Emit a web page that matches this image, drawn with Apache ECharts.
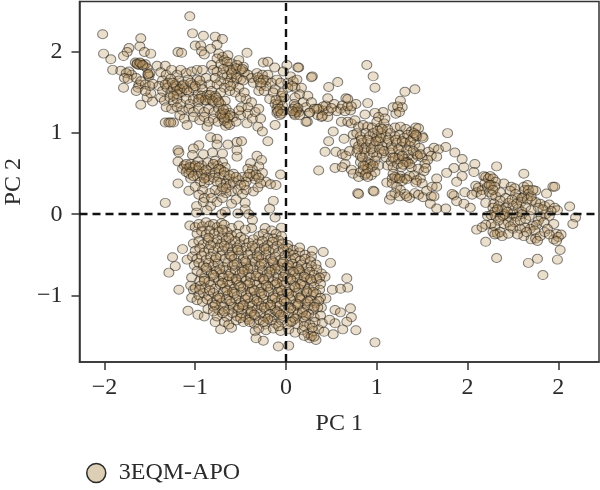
<!DOCTYPE html>
<html>
<head>
<meta charset="utf-8">
<style>html,body{margin:0;padding:0;background:#fff}#chart{width:600px;height:490px}</style>
<script src="https://cdn.jsdelivr.net/npm/echarts@6/dist/echarts.min.js"></script>
</head>
<body>
<div id="chart"></div>
<script>
// Principal component scores, grouped by conformational basin: [PC 1, PC 2]
const seriesName = '3EQM-APO';
const xTickValues = [-2, -1, 0, 1, 2, 3];
const xTickLabels = ['−2', '−1', '0', '1', '2', '2'];
const yTickValues = [-1, 0, 1, 2];
const yTickLabels = ['−1', '0', '1', '2'];

const upperLeftFringe = [
[-1.06,2.44],[-2.02,2.22],[-1.6,2.17],[-1.03,2.23],[-0.91,2.2],[-0.78,2.19],[-0.7,2.16],[-1.61,2.07],[-1.73,2.05],[-1.75,2],[-1.79,1.95],[-2.01,1.98],[-1.93,1.91],[-1.56,2],[-1.49,1.98],[-1.19,2],[-1.15,1.99],[-1,2.08],[-0.94,2.08],[-0.76,2.09],[-0.83,2.04],[-0.93,2.01],[-0.9,1.97],[-0.43,1.99],[-0.25,1.87],[-0.2,1.88],[-0.125,1.81],[0.01,1.84],[0.14,1.81],[0.29,1.7],[-0.03,1.76],[-1.91,1.78],[-1.82,1.77],[-1.79,1.56],[-1.6,1.35],[-1.53,1.44],[-1.47,1.39],[-1.49,1.49],[-1.33,1.13],[-1.29,1.13],[-1.24,1.13],[-1.27,1.13],[-1.09,1.1],[-0.87,1.08],[-0.665,1.09],[-0.43,1.12],[-0.31,1.08],[-0.26,1.02],[-0.12,1.1],[0.235,1.14],[-0.2,0.9]];
const upperLeftBody = [
[-1.66,1.87],[-1.64,1.86],[-1.62,1.84],[-1.6,1.86],[-1.57,1.83],[-1.55,1.85],[-1.53,1.8],[-1.52,1.72],[-1.51,1.7],[-1.5,1.74],[-1.7,1.72],[-1.73,1.76],[-1.76,1.74],[-1.78,1.68],[-1.74,1.67],[-1.65,1.68],[-1.62,1.6],[-1.63,1.56],[-1.6,1.64],[-1.55,1.6],[-1.5,1.58],[-1.47,1.61],[-1.55,1.52],[-1.65,1.52],[-1.42,1.83],[-1.33,1.83],[-1.38,1.75],[-1.32,1.72],[-1.26,1.78],[-1.2,1.72],[-1.16,1.78],[-1.1,1.74],[-1.04,1.76],[-0.98,1.78],[-0.92,1.78],[-1.36,1.65],[-1.3,1.62],[-1.27,1.67],[-1.22,1.6],[-1.18,1.65],[-1.14,1.58],[-1.08,1.66],[-1.03,1.6],[-0.98,1.66],[-0.93,1.6],[-0.88,1.68],[-0.84,1.6],[-1.4,1.58],[-1.36,1.52],[-1.31,1.56],[-1.27,1.5],[-1.33,1.6],[-1.24,1.55],[-1.2,1.52],[-1.15,1.5],[-1.12,1.55],[-1.07,1.5],[-1.02,1.55],[-0.97,1.48],[-0.92,1.54],[-0.87,1.47],[-0.82,1.52],[-0.78,1.46],[-1.38,1.44],[-1.34,1.4],[-1.28,1.44],[-1.24,1.38],[-1.2,1.42],[-1.16,1.36],[-1.1,1.42],[-1.06,1.36],[-1.02,1.42],[-0.97,1.38],[-0.93,1.43],[-0.88,1.4],[-0.84,1.42],[-0.8,1.38],[-0.75,1.41],[-0.72,1.36],[-0.67,1.4],[-1.32,1.32],[-1.26,1.3],[-1.2,1.32],[-1.14,1.28],[-1.07,1.3],[-1.02,1.26],[-0.96,1.3],[-0.9,1.26],[-0.85,1.3],[-0.79,1.26],[-0.74,1.3],[-0.7,1.25],[-0.66,1.3],[-0.62,1.25],[-1.17,1.22],[-1.12,1.18],[-1.02,1.2],[-0.95,1.16],[-0.9,1.2],[-0.85,1.14],[-0.8,1.18],[-0.75,1.14],[-0.7,1.2],[-0.68,1.15],[-0.64,1.12],[-0.62,1.1],[-0.58,1.2],[-0.55,1.14],[-0.5,1.22],[-0.49,1.32],[-0.52,1.28],[-0.42,1.24],[-0.37,1.18],[-0.34,1.26],[-0.28,1.18],[-0.3,1.3],
[-0.74,1.98],[-0.7,1.94],[-0.76,1.92],[-0.68,1.9],[-0.64,1.96],[-0.6,1.86],[-0.72,1.85],[-0.64,1.82],[-0.58,1.78],[-0.52,1.9],[-0.47,1.82],[-0.46,1.75],[-0.5,1.78],[-0.54,1.84],[-0.82,1.84],[-0.8,1.78],[-0.76,1.76],[-0.7,1.72],[-0.65,1.7],[-0.6,1.68],[-0.55,1.72],[-0.5,1.66],[-0.58,1.62],[-0.64,1.62],[-0.72,1.64],[-0.76,1.6],[-0.68,1.56],[-0.62,1.52],[-0.56,1.5],[-0.52,1.56],[-0.72,1.5],[-0.78,1.68],[-0.42,1.72],[-0.38,1.68],[-0.36,1.62],[-0.32,1.74],[-0.3,1.66],[-0.26,1.72],[-0.22,1.65],[-0.2,1.72],[-0.28,1.58],[-0.3,1.52],[-0.24,1.52],[-0.22,1.58],[-0.16,1.62],[-0.1,1.66],[-0.06,1.62],[-0.12,1.54],[-0.44,1.42],[-0.38,1.38],[-0.42,1.32],[-0.5,1.44],[-0.46,1.5],[-0.18,1.42],[-0.14,1.5],
[-0.12,1.36],[-0.1,1.3],[-0.1,1.25],[-0.06,1.4],[-0.05,1.46],[-0.04,1.34],[-0.07,1.22],[-0.03,1.27],[-0.02,1.44],[0.02,1.62],[0.05,1.7],[0.08,1.64],[0.12,1.66],[0.1,1.56],[0.17,1.56],[0.15,1.48],[0.1,1.44],[0.09,1.36],[0.12,1.28],[0.1,1.22],[0.08,1.3],[0.14,1.26],[0.19,1.38],[0.24,1.46],[0.22,1.32],[0.28,1.38],[0.26,1.25],[0.31,1.3],[0.36,1.3],[0.41,1.28],[0.44,1.34],[0.39,1.2],[0.35,1.22],[0.46,1.2]];
// Tight knots inside the upper basin
const upperLeftKnots = [
[-1.64,1.85],[-1.61,1.87],[-1.58,1.84],[-1.52,1.73],[-1.21,1.58],[-1.17,1.54],[-1.13,1.6],[-1.09,1.53],[-1.25,1.62],[-1.2,1.48],[-1.24,1.46],[-0.93,1.46],[-0.89,1.41],[-0.84,1.47],[-0.81,1.4],[-0.96,1.42],[-0.77,1.44],[-0.74,1.38],[-0.67,1.24],[-0.64,1.19],[-0.62,1.22],[-0.68,1.18],[-0.72,1.23],[-0.69,1.29],[-0.62,1.78],[-0.55,1.8],[-0.48,1.79],[-0.6,1.74],[-0.65,1.88],[-0.69,1.79],[-0.54,1.68],[-0.61,1.58],[-0.47,1.65],[-0.31,1.69],[-0.25,1.66],[-0.28,1.62],[-0.09,1.35],[-0.07,1.3],[-0.11,1.41],[-0.09,1.27],[-0.05,1.24],[0.1,1.33],[0.11,1.26],[0.09,1.24],[0.13,1.31],[0.07,1.27],[0.15,1.22],[-0.04,1.5],[0.02,1.56],[0.07,1.58],[-1.05,1.62],[-1,1.58],[-0.95,1.65]];
const midCenterStrip = [
[0.13,1.81],[0.28,1.69],[0.47,1.57],[0.57,1.63],[0.46,1.43],[0.9,1.37],[0.77,1.36],[0.66,1.43],[0.68,1.42],[0.53,1.36],[0.41,1.33],[0.47,1.27],[0.4,1.21],[0.6,1.3],[0.71,1.28],[0.22,1.14],[0.26,1.255],[0.56,1.27],[0.62,1.34],[0.65,1.27],[0.68,1.33],[0.72,1.33],[0.5,1.31],[0.89,1.84],[0.96,1.7],[0.98,1.56],[1.31,1.51],[1.42,1.54],[0.34,1.3]];
const rightCluster = [
[1.26,1.4],[1.28,1.32],[1.18,1.32],[1.21,1.24],[1.07,1.26],[0.98,1.25],[0.87,1.23],[0.61,1.14],[0.52,1.02],[0.64,0.93],[0.47,0.9],[0.43,0.77],[0.55,0.77],[0.36,0.54],[0.54,0.57],[1.78,1],[0.79,0.26],[0.8,0.25],[0.96,0.29],[0.97,0.28],[1.11,0.39],[1.14,0.18],[1.23,1.33],[1.25,1.26],[1.02,1.2],[1.09,1.18],[0.68,1.14],[0.72,1.12],[0.76,1.16],[0.62,0.74],[0.66,0.72],[0.7,0.78],[0.65,0.62],[0.62,0.58],[0.72,0.55],[0.74,0.5],[0.8,0.46],[0.82,0.52],[0.87,0.48],[0.94,0.48],
[0.8,1.08],[0.85,1.1],[0.9,1.08],[0.95,1.07],[1,1.14],[1.04,1.07],[1.08,1.12],[1.12,1.05],[1.2,1.07],[1.26,1.08],[1.32,1.05],[1.38,1.02],[1.43,1.07],[1.46,1.06],[1.5,0.96],[0.74,0.98],[0.78,1],[0.82,0.96],[0.88,1],[0.92,0.96],[0.96,1],[1,0.95],[1.05,1],[1.1,0.96],[1.15,1],[1.2,0.96],[1.25,0.98],[1.3,0.94],[1.34,0.98],[1.4,0.94],[1.44,0.96],[1.51,0.94],
[0.76,0.88],[0.8,0.84],[0.84,0.88],[0.88,0.83],[0.93,0.88],[0.97,0.84],[1.02,0.9],[1.06,0.84],[1.11,0.88],[1.16,0.84],[1.22,0.88],[1.27,0.83],[1.31,0.88],[1.36,0.84],[1.42,0.86],[1.47,0.82],[1.57,0.77],[1.63,0.82],[1.68,0.8],[1.6,0.72],[1.66,0.71],
[0.78,0.76],[0.82,0.72],[0.87,0.76],[0.92,0.72],[0.96,0.76],[1,0.72],[1.06,0.75],[1.1,0.7],[1.15,0.76],[1.2,0.7],[1.25,0.74],[1.3,0.68],[1.35,0.73],[1.39,0.68],[1.44,0.74],[1.5,0.7],[1.56,0.67],[1.53,0.62],
[0.82,0.64],[0.87,0.6],[0.9,0.64],[0.94,0.58],[0.98,0.66],[1.02,0.6],[1.12,0.6],[1.16,0.65],[1.18,0.58],[1.23,0.62],[1.27,0.58],[1.34,0.64],[1.38,0.58],[1.46,0.56],[1.52,0.53],[1.54,0.57],
[0.85,0.55],[0.88,0.5],[0.9,0.46],[0.98,0.52],[1.18,0.5],[1.22,0.44],[1.17,0.44],[1.26,0.47],[1.31,0.44],[1.28,0.41],[1.36,0.47],[1.41,0.48],[1.44,0.42],[1.48,0.44],[1.43,0.39],[1.5,0.38],[1.17,0.38],[1.22,0.34],[1.26,0.3],[1.2,0.26],[1.16,0.23],[1.25,0.22],[1.31,0.25],[1.36,0.2],[1.33,0.22],[1.42,0.26],[1.46,0.24],[1.51,0.21],[1.55,0.29],[1.6,0.22],[1.59,0.13],[1.61,0.34],[1.63,0.22],[1.66,0.34],[1.66,0.07],[1.66,0.44],[1.76,0.07],[2.03,0.08],[1.86,0.76],[1.94,0.68],[2.08,0.62],[1.76,0.83],[1.85,0.57],[1.96,0.58],[2.07,0.52],[1.77,0.51],[1.94,0.47],[1.88,0.4],[1.85,0.23],[1.88,0.16],[1.96,0.13],[1.83,0.25],[1.97,0.27]];
// Core of the right basin, where marks pile up
const rightKnots = [
[0.83,0.92],[0.86,0.8],[0.9,0.92],[0.94,0.8],[0.99,0.9],[1.03,0.8],[1.04,0.94],[1.08,0.78],[0.84,0.7],[0.79,0.8],[1.13,0.92],[1.17,0.8],[1.21,0.92],[1.24,0.8],[1.28,0.9],[1.33,0.79],[1.37,0.9],[1.4,0.78],[1.24,0.68],[1.28,0.72],[1.32,0.64],[1.36,0.62],[1.29,0.61],[1.18,0.7],[0.93,0.62],[0.96,0.6],[0.9,0.56],[0.85,0.6],[1.2,0.46],[1.25,0.44],[1.33,0.43],[1.01,1.03],[1.06,1.05],[1.41,1],[1.43,0.98],[1.45,0.72],[1.48,0.74]];
const farRightCluster = [
[2.32,0.59],[2.62,0.5],[2.94,0.34],[2.96,0.34],[3.125,0.095],[3.19,-0.04],[3.16,-0.12],[3.02,-0.44],[2.99,-0.56],[2.77,-0.55],[2.67,-0.6],[2.32,-0.54],[2.2,-0.34],[2.83,-0.75],[2.1,-0.19],[2.87,0.255],[2.75,0.29],
[2.18,0.47],[2.2,0.46],[2.23,0.44],[2.25,0.47],[2.28,0.44],[2.31,0.4],[2.09,0.35],[2.12,0.33],[2.1,0.27],[2.05,0.24],[2.16,0.3],[2.15,0.24],[2.19,0.38],[2.22,0.34],[2.26,0.36],[2.3,0.34],[2.24,0.27],[2.27,0.24],[2.31,0.22],[2.36,0.27],[2.4,0.38],[2.48,0.34],[2.52,0.32],[2.47,0.29],[2.53,0.25],[2.62,0.34],[2.63,0.3],[2.67,0.25],[2.62,0.22],[2.71,0.17],[2.55,0.2],[2.59,0.15],[2.42,0.2],[2.45,0.14],[2.36,0.17],[2.2,0.14],[2.29,0.13],[2.34,0.1],[2.28,0.08],[2.38,0.05],[2.42,0.08],[2.5,0.1],[2.56,0.07],[2.6,0.03],[2.64,0.09],[2.3,0.03],[2.22,-0.02],[2.26,-0.01],[2.31,-0.02],[2.36,-0.04],[2.41,0],[2.46,-0.03],[2.5,0.01],[2.54,-0.03],[2.6,0],[2.85,0.1],[2.9,0.12],[2.96,0.08],[2.99,0.05],[2.92,0.04],[2.8,0.13],[2.75,0.15],[2.86,0],[2.81,-0.03],[2.78,-0.08],[2.72,-0.14],[2.76,-0.13],[2.69,-0.18],[2.74,-0.2],[2.63,-0.16],[2.58,-0.18],[2.5,-0.18],[2.45,-0.1],[2.4,-0.12],[2.34,-0.08],[2.3,-0.15],[2.26,-0.12],[2.2,-0.13],[2.16,-0.16],[2.28,-0.22],[2.33,-0.24],[2.36,-0.22],[2.3,-0.25],[2.38,-0.27],[2.45,-0.24],[2.62,-0.27],[2.7,-0.31],[2.75,-0.3],[2.8,-0.27],[2.77,-0.33],[2.85,-0.22],[2.95,-0.12],[2.98,-0.24],[2.95,-0.31],[3.03,-0.25],[3,-0.28],[2.98,-0.33],[2.24,0.36],[2.28,0.3],[2.33,0.06],[2.39,-0.02],[2.44,0.03],[2.49,0.18],[2.54,0.13],[2.6,0.2],[2.66,0.18],
[2.66,0.36],[2.67,0.3],[2.7,0.22],[2.72,0.3],[2.78,0.08],[2.83,0.06],[2.9,-0.02],[2.84,-0.1],[2.88,-0.18],[2.9,-0.25],[2.52,-0.1],[2.58,-0.08],[2.64,-0.06],[2.68,-0.02],[2.7,0.05],[2.65,-0.22],[2.55,-0.25],[2.47,-0.15]];
const midLeftCluster = [
[-0.83,0.95],[-0.76,0.93],[-0.76,0.86],[-0.96,0.85],[-1.02,0.81],[-1.19,0.79],[-1.18,0.76],[-0.64,0.86],[-0.54,0.89],[-0.49,0.9],[-0.54,0.79],[-0.54,0.71],[-0.81,0.76],[-0.7,0.75],[-0.91,0.74],[-1.03,0.73],[-1.19,0.65],[-0.32,0.72],[-0.27,0.67],[-0.39,0.63],[-0.3,0.59],[-0.26,0.51],[-0.06,0.49],[-0.22,0.4],[-0.17,0.37],[-0.11,0.36],[-1.19,0.38],[-1.07,0.29],[-1.12,0.6],[-1.09,0.56],[-1.05,0.62],[-1.02,0.58],[-1.14,0.56],[-1.1,0.52],[-1.04,0.52],[-0.97,0.65],[-0.93,0.6],[-0.97,0.54],[-0.9,0.53],[-0.86,0.64],[-0.82,0.58],[-0.78,0.66],[-0.75,0.6],[-0.7,0.64],[-0.67,0.58],[-0.72,0.55],[-0.78,0.52],[-0.84,0.5],[-0.88,0.46],[-0.98,0.47],[-1.05,0.44],[-0.94,0.4],[-0.9,0.38],[-0.85,0.42],[-0.8,0.45],[-0.74,0.46],[-0.68,0.48],[-0.63,0.44],[-0.58,0.5],[-0.72,0.39],[-0.66,0.38],[-0.62,0.36],[-0.58,0.4],[-0.52,0.42],[-0.48,0.46],[-0.44,0.4],[-0.37,0.55],[-0.36,0.47],[-0.34,0.43],[-0.42,0.56],[-0.6,0.28],[-0.66,0.26],[-0.72,0.28],[-0.78,0.3],[-0.84,0.26],[-0.92,0.3],[-1,0.34],[-0.96,0.24],[-0.53,0.3],[-0.48,0.25],[-0.44,0.3],[-0.36,0.28],[-0.31,0.33],
[-1.33,0.14],[-0.985,0.1],[-0.91,0.15],[-0.83,0.1],[-0.76,0.15],[-0.6,0.13],[-0.45,0.14],[-0.45,0.06],[-0.18,0.07],[-0.14,0.165],[-0.985,0.02],[-0.87,0.05],[-0.71,0],[-0.67,0.03],[-0.53,0.01],[-0.41,0],[-0.37,-0.07],[-0.9,0.2],[-0.82,0.2],[-0.7,0.2],[-0.55,0.18],
[-1.1,0.62],[-1.06,0.58],[-1,0.6],[-0.96,0.58],[-1.07,0.5],[-1.02,0.47],[-0.93,0.5],[-0.88,0.55],[-0.8,0.62],[-0.74,0.56],[-0.68,0.52],[-0.62,0.48],[-0.55,0.46],[-0.5,0.36],[-0.46,0.36],[-0.42,0.46],[-0.4,0.5],[-0.33,0.49],[-0.3,0.45],[-0.28,0.38],[-0.9,0.44],[-0.76,0.4],[-0.7,0.33],[-0.66,0.32]];
const lowerFringe = [
[-1.06,-0.14],[-1.25,-0.53],[-1.22,-0.64],[-1.29,-0.72],[-1.14,-0.43],[-1.09,-0.56],[-1.04,-0.78],[-1.18,-0.93],[-1.02,-0.93],[-1.04,-1.03],[-0.98,-1.06],[-1.08,-1.19],[-0.97,-1.24],[-0.9,-1.26],[-0.78,-1.33],[-0.72,-1.42],[-0.6,-1.4],[-0.34,-1.44],[-0.25,-1.56],[-0.33,-1.53],[-0.085,-1.63],[0.03,-1.62],[0.26,-1.53],[0.33,-1.55],[0.52,-1.48],[0.625,-1.42],[0.77,-1.43],[0.72,-1.27],[0.71,-1.16],[0.54,-1.18],[0.6,-1.21],[0.67,-1.325],[0.54,-1.345],[0.98,-1.58],[0.68,-0.905],[0.67,-0.79],[0.6,-0.92],[0.51,-0.93],[0.49,-0.6],[0.41,-0.465],[0.29,-0.45],[0.39,-0.73],[0.43,-0.77],[0.44,-1.04],[0.39,-1.15],[-0.12,-0.04],[-0.05,-0.165],[-0.23,-0.17],[-0.38,-0.17]];
const lowerBody = [
[-1,-0.16],[-0.96,-0.12],[-0.92,-0.15],[-0.88,-0.1],[-0.84,-0.14],[-0.8,-0.12],[-0.76,-0.16],[-0.71,-0.11],[-0.68,-0.13],[-0.6,-0.17],[-0.52,-0.14],[-0.45,-0.19],[-0.16,-0.2],[-0.11,-0.24],[-0.05,-0.27],
[-0.98,-0.24],[-0.93,-0.21],[-0.88,-0.25],[-0.84,-0.2],[-0.79,-0.24],[-0.74,-0.22],[-0.7,-0.27],[-0.65,-0.22],[-0.6,-0.26],[-0.54,-0.24],[-0.5,-0.28],[-0.3,-0.27],[-0.25,-0.24],[-0.2,-0.29],[-0.14,-0.3],[-0.08,-0.32],[0.02,-0.38],
[-1.02,-0.36],[-0.96,-0.33],[-0.91,-0.37],[-0.86,-0.32],[-0.8,-0.35],[-0.76,-0.31],[-0.71,-0.36],[-0.66,-0.32],[-0.61,-0.37],[-0.56,-0.33],[-0.51,-0.37],[-0.46,-0.31],[-0.41,-0.35],[-0.36,-0.31],[-0.31,-0.36],[-0.26,-0.33],[-0.2,-0.38],[-0.15,-0.34],[-0.1,-0.39],[-0.04,-0.36],[0.02,-0.42],[0.08,-0.44],
[-1,-0.45],[-0.95,-0.42],[-0.9,-0.47],[-0.85,-0.43],[-0.8,-0.46],[-0.75,-0.41],[-0.7,-0.45],[-0.64,-0.42],[-0.59,-0.46],[-0.54,-0.41],[-0.49,-0.45],[-0.44,-0.41],[-0.39,-0.46],[-0.34,-0.42],[-0.29,-0.46],[-0.24,-0.41],[-0.19,-0.46],[-0.14,-0.43],[-0.08,-0.47],[-0.03,-0.43],[0.03,-0.48],[0.08,-0.5],[0.15,-0.47],[0.21,-0.5],[0.28,-0.52],
[-1.03,-0.52],[-0.98,-0.55],[-0.93,-0.51],[-0.88,-0.56],[-0.83,-0.52],[-0.78,-0.56],[-0.72,-0.51],[-0.67,-0.55],[-0.62,-0.5],[-0.57,-0.55],[-0.52,-0.51],[-0.47,-0.55],[-0.42,-0.5],[-0.37,-0.55],[-0.32,-0.51],[-0.27,-0.55],[-0.22,-0.5],[-0.17,-0.55],[-0.12,-0.52],[-0.06,-0.56],[-0.01,-0.51],[0.05,-0.56],[0.1,-0.54],[0.16,-0.57],[0.21,-0.55],[0.27,-0.58],[0.33,-0.62],
[-1.01,-0.63],[-0.96,-0.6],[-0.91,-0.64],[-0.85,-0.6],[-0.8,-0.64],[-0.75,-0.61],[-0.69,-0.65],[-0.64,-0.6],[-0.59,-0.64],[-0.54,-0.6],[-0.49,-0.65],[-0.44,-0.6],[-0.39,-0.64],[-0.34,-0.59],[-0.29,-0.64],[-0.24,-0.6],[-0.19,-0.65],[-0.14,-0.6],[-0.09,-0.64],[-0.04,-0.61],[0.01,-0.65],[0.07,-0.61],[0.12,-0.65],[0.17,-0.62],[0.23,-0.66],[0.28,-0.64],[0.34,-0.68],
[-0.98,-0.7],[-0.93,-0.73],[-0.87,-0.69],[-0.82,-0.73],[-0.77,-0.7],[-0.71,-0.74],[-0.66,-0.69],[-0.61,-0.73],[-0.56,-0.69],[-0.51,-0.74],[-0.46,-0.69],[-0.41,-0.73],[-0.36,-0.68],[-0.31,-0.73],[-0.26,-0.69],[-0.21,-0.74],[-0.16,-0.69],[-0.11,-0.73],[-0.06,-0.69],[-0.01,-0.74],[0.05,-0.7],[0.1,-0.74],[0.15,-0.7],[0.21,-0.74],[0.26,-0.71],[0.31,-0.75],[0.37,-0.78],
[-0.95,-0.82],[-0.9,-0.79],[-0.85,-0.83],[-0.79,-0.78],[-0.74,-0.82],[-0.69,-0.78],[-0.64,-0.83],[-0.59,-0.79],[-0.54,-0.83],[-0.49,-0.78],[-0.44,-0.82],[-0.39,-0.78],[-0.34,-0.83],[-0.29,-0.78],[-0.24,-0.82],[-0.19,-0.78],[-0.14,-0.83],[-0.09,-0.79],[-0.04,-0.83],[0.02,-0.78],[0.07,-0.82],[0.12,-0.78],[0.18,-0.83],[0.23,-0.79],[0.28,-0.83],[0.34,-0.8],[0.38,-0.86],
[-1.05,-0.88],[-1,-0.91],[-0.94,-0.88],[-0.89,-0.91],[-0.83,-0.87],[-0.78,-0.92],[-0.72,-0.87],[-0.67,-0.91],[-0.62,-0.87],[-0.57,-0.92],[-0.52,-0.87],[-0.47,-0.91],[-0.42,-0.87],[-0.37,-0.92],[-0.32,-0.87],[-0.27,-0.91],[-0.22,-0.87],[-0.17,-0.92],[-0.12,-0.87],[-0.07,-0.91],[-0.02,-0.87],[0.04,-0.92],[0.09,-0.88],[0.14,-0.92],[0.2,-0.88],[0.25,-0.92],[0.31,-0.89],[0.37,-0.93],
[-0.96,-1],[-0.91,-0.97],[-0.85,-1.01],[-0.8,-0.97],[-0.75,-1.01],[-0.69,-0.96],[-0.64,-1],[-0.59,-0.96],[-0.54,-1.01],[-0.49,-0.96],[-0.44,-1],[-0.39,-0.96],[-0.34,-1.01],[-0.29,-0.96],[-0.24,-1],[-0.19,-0.96],[-0.14,-1.01],[-0.09,-0.96],[-0.04,-1],[0.01,-0.96],[0.07,-1.01],[0.12,-0.97],[0.17,-1.01],[0.23,-0.97],[0.28,-1.01],[0.33,-0.98],[0.38,-1.03],
[-0.92,-1.08],[-0.87,-1.05],[-0.81,-1.09],[-0.76,-1.05],[-0.71,-1.09],[-0.66,-1.05],[-0.6,-1.1],[-0.55,-1.05],[-0.5,-1.09],[-0.45,-1.05],[-0.4,-1.1],[-0.35,-1.05],[-0.3,-1.09],[-0.25,-1.05],[-0.2,-1.1],[-0.15,-1.05],[-0.1,-1.09],[-0.05,-1.05],[0,-1.09],[0.05,-1.05],[0.11,-1.1],[0.16,-1.05],[0.21,-1.1],[0.27,-1.06],[0.32,-1.1],[0.36,-1.07],
[-0.86,-1.17],[-0.8,-1.14],[-0.74,-1.18],[-0.69,-1.14],[-0.63,-1.18],[-0.58,-1.14],[-0.53,-1.18],[-0.48,-1.13],[-0.42,-1.18],[-0.37,-1.13],[-0.32,-1.17],[-0.27,-1.13],[-0.22,-1.18],[-0.17,-1.14],[-0.12,-1.18],[-0.07,-1.13],[-0.02,-1.18],[0.03,-1.14],[0.08,-1.18],[0.13,-1.13],[0.19,-1.18],[0.24,-1.14],[0.3,-1.18],[0.35,-1.15],
[-0.76,-1.26],[-0.7,-1.22],[-0.65,-1.27],[-0.59,-1.22],[-0.54,-1.26],[-0.49,-1.22],[-0.44,-1.27],[-0.39,-1.22],[-0.34,-1.26],[-0.28,-1.22],[-0.23,-1.27],[-0.18,-1.23],[-0.13,-1.27],[-0.08,-1.22],[-0.03,-1.26],[0.03,-1.22],[0.08,-1.27],[0.13,-1.23],[0.19,-1.27],[0.25,-1.23],[0.31,-1.27],[0.38,-1.25],
[-0.68,-1.33],[-0.63,-1.36],[-0.55,-1.31],[-0.47,-1.33],[-0.41,-1.3],[-0.35,-1.35],[-0.29,-1.31],[-0.23,-1.36],[-0.17,-1.31],[-0.11,-1.35],[-0.05,-1.31],[0.01,-1.36],[0.07,-1.32],[0.13,-1.36],[0.2,-1.32],[0.26,-1.36],[0.32,-1.33],[0.4,-1.34],[0.48,-1.3],
[-0.3,-1.41],[-0.22,-1.43],[-0.14,-1.41],[-0.06,-1.44],[0.03,-1.42],[0.1,-1.46],[0.18,-1.43],[0.24,-1.47],[0.3,-1.44],[0.36,-1.42],[0.42,-1.45],[0.28,-1.5],[0.2,-1.5]];
// Second layer over the crowded part of the lower basin
const lowerKnots = [
[-0.83,-0.38],[-0.68,-0.39],[-0.53,-0.44],[-0.37,-0.39],[-0.22,-0.43],[-0.77,-0.53],[-0.6,-0.52],[-0.45,-0.58],[-0.3,-0.53],[-0.15,-0.58],[-0.03,-0.59],[-0.88,-0.66],[-0.73,-0.68],[-0.57,-0.62],[-0.42,-0.67],[-0.27,-0.61],[-0.12,-0.67],[0.03,-0.63],[0.14,-0.68],[-0.8,-0.75],[-0.63,-0.76],[-0.48,-0.71],[-0.33,-0.76],[-0.18,-0.71],[-0.03,-0.77],[0.08,-0.71],[0.2,-0.77],[-0.7,-0.85],[-0.55,-0.8],[-0.4,-0.85],[-0.25,-0.8],[-0.1,-0.85],[0.05,-0.8],[0.16,-0.86],[0.27,-0.8],[-0.84,-0.94],[-0.65,-0.94],[-0.5,-0.89],[-0.35,-0.94],[-0.2,-0.89],[-0.05,-0.94],[0.1,-0.9],[0.23,-0.95],[-0.73,-1.03],[-0.57,-0.98],[-0.42,-1.03],[-0.27,-0.98],[-0.12,-1.03],[0.03,-0.98],[0.15,-1.03],[0.3,-0.96],[-0.78,-1.12],[-0.62,-1.07],[-0.47,-1.12],[-0.32,-1.07],[-0.17,-1.12],[-0.02,-1.07],[0.13,-1.11],[0.24,-1.07],[-0.68,-1.2],[-0.52,-1.15],[-0.38,-1.2],[-0.24,-1.15],[-0.1,-1.2],[0.05,-1.16],[0.18,-1.21],[0.31,-1.14],[-0.5,-1.28],[-0.35,-1.24],[-0.2,-1.29],[-0.06,-1.24],[0.1,-1.29],[0.22,-1.25],[-0.4,-1.33],[-0.25,-1.33],[-0.08,-1.38],[0.05,-1.33],[0.2,-1.38],[0.29,-1.4],[0.31,-1.51],[0.15,-0.41],[-0.7,-0.19],[-0.85,-0.29],[-0.63,-0.29],[-0.9,-0.82],[-0.95,-0.93],[-0.8,-1.2]];

const scores = [].concat(upperLeftFringe, upperLeftBody, upperLeftKnots, midCenterStrip, rightCluster, rightKnots, farRightCluster, midLeftCluster, lowerFringe, lowerBody, lowerKnots);

const serif = '"Liberation Serif", "DejaVu Serif", serif';
const ink = '#2b2b2b';
const labelFor = (values, labels) => v => {
  const i = values.indexOf(Math.round(v * 1000) / 1000);
  return i < 0 ? '' : labels[i];
};

const chart = echarts.init(document.getElementById('chart'), null, { renderer: 'canvas' });
chart.setOption({
  animation: false,
  backgroundColor: '#fff',
  grid: { left: 79.5, right: 1, top: 1.5, bottom: 128, outerBoundsMode: 'none', show: true, borderColor: '#333', borderWidth: 1.5, backgroundColor: 'transparent' },
  legend: {
    left: 81, top: 456, itemWidth: 19, itemHeight: 19, icon: 'circle', itemGap: 8,
    data: [{ name: seriesName, itemStyle: { color: '#dccfb6', borderColor: '#2a2a2a', borderWidth: 1.5, opacity: 1 } }],
    textStyle: { fontFamily: serif, fontSize: 24, color: ink, padding: [0, 0, 0, 8] }
  },
  xAxis: {
    type: 'value', min: -2.275, max: 3.448, name: 'PC 1', nameLocation: 'middle', nameGap: 50,
    nameTextStyle: { fontFamily: serif, fontSize: 24, color: ink },
    splitLine: { show: false },
    axisLine: { show: true, onZero: false, lineStyle: { color: '#333', width: 1.5 } },
    axisTick: { show: true, length: 8, customValues: xTickValues, lineStyle: { color: '#333', width: 1.5 } },
    axisLabel: { customValues: xTickValues, formatter: labelFor(xTickValues, xTickLabels), fontFamily: serif, fontSize: 24, color: ink, margin: 14 }
  },
  yAxis: {
    type: 'value', min: -1.822, max: 2.623, name: 'PC 2', nameLocation: 'middle', nameGap: 54,
    nameTextStyle: { fontFamily: serif, fontSize: 24, color: ink },
    splitLine: { show: false },
    axisLine: { show: true, onZero: false, lineStyle: { color: '#333', width: 1.5 } },
    axisTick: { show: true, length: 8, customValues: yTickValues, lineStyle: { color: '#333', width: 1.5 } },
    axisLabel: { customValues: yTickValues, formatter: labelFor(yTickValues, yTickLabels), fontFamily: serif, fontSize: 24, color: ink, margin: 17 }
  },
  series: [{
    name: seriesName, type: 'scatter', data: scores, symbol: 'circle', symbolSize: [10, 9],
    itemStyle: { color: 'rgba(186,146,92,0.38)', borderColor: 'rgba(30,25,18,0.68)', borderWidth: 1 },
    markLine: {
      silent: true, symbol: 'none', label: { show: false }, animation: false,
      lineStyle: { color: '#111', type: [8, 5], width: 2.4 },
      data: [{ xAxis: 0 }, { yAxis: 0 }]
    }
  }]
});
</script>
</body>
</html>
